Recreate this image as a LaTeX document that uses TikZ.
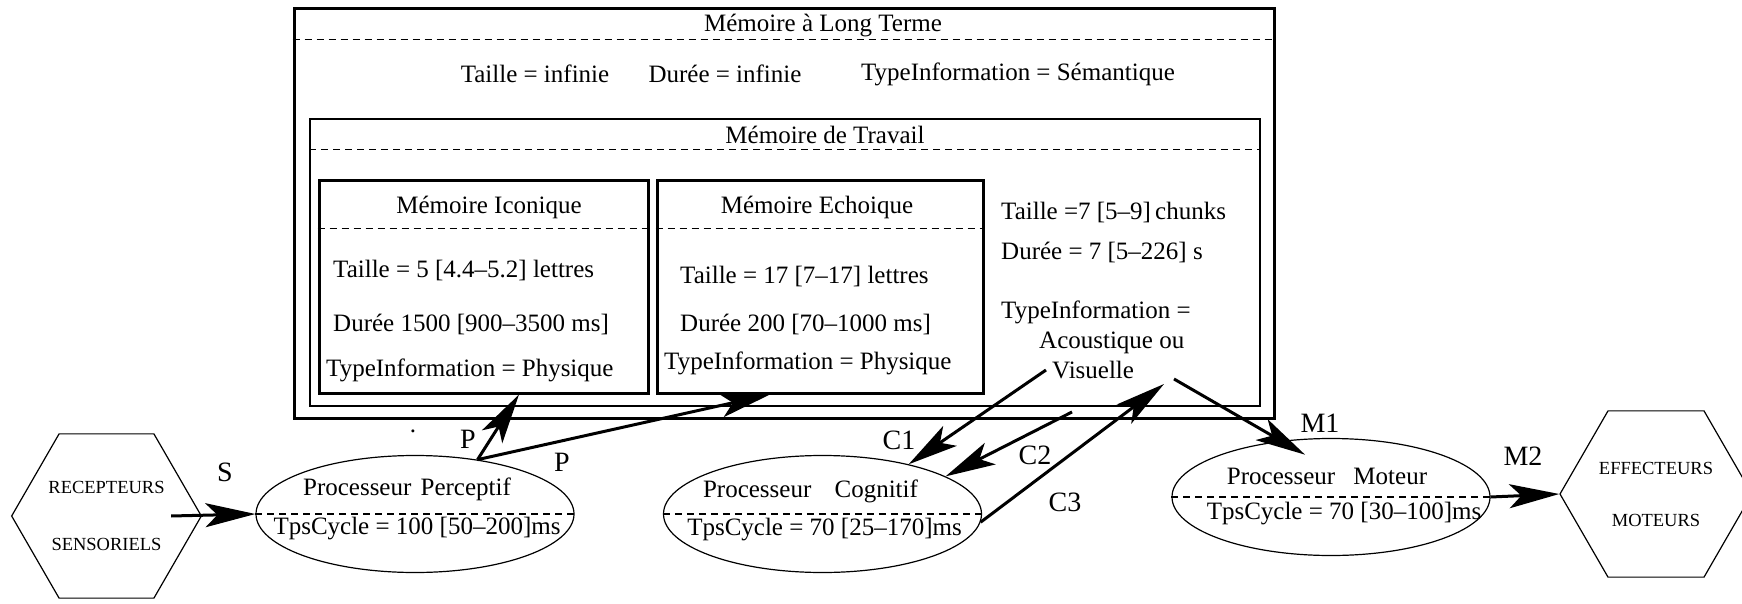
\documentclass[tikz,border=0pt]{standalone}
\usepackage{fontspec}
\setmainfont{Liberation Serif}
\usepackage{tikz}
\usetikzlibrary{arrows,arrows.meta,shapes}
\usetikzlibrary{positioning,fit}
\tikzstyle{membox} = [draw, line width=3pt, inner sep=0pt]
\tikzstyle{wmbox} = [draw, line width=1.2pt, inner sep=0pt]
\tikzstyle{proc} = [draw, ellipse, line width=1.2pt, inner sep=0pt,
    minimum width=318pt, minimum height=117pt]
\tikzstyle{organ} = [draw, regular polygon, regular polygon sides=6,
    line width=1.2pt, inner sep=0pt, align=center,
    font=\fontsize{18.5}{22}\selectfont]
\tikzstyle{sep} = [line width=1.2pt, dash pattern=on 7pt off 5pt]
\tikzstyle{flow} = [line width=3pt, -{Stealth[length=50pt,width=24pt,inset=12pt]}]
\tikzstyle{lbl} = [font=\fontsize{28}{32}\selectfont]
\tikzstyle{attr} = [anchor=west, inner sep=0pt]

\begin{document}
\begin{tikzpicture}[x=1pt, y=-1pt, font=\fontsize{25}{30}\selectfont]
  \useasboundingbox (0,0) rectangle (1742,604);
  % Place nodes
  \node [membox, minimum width=980pt, minimum height=409pt] (ltm) at (784,213.5) {};
  \node (ltmtitle) at (823,26) {Mémoire à Long Terme};
  \draw [sep] ([yshift=-32pt]ltm.north west) -- ([yshift=-32pt]ltm.north east);
  \node (ltmsize) at (535,74) {Taille = infinie};
  \node (ltmdur) at (725,74) {Durée = infinie};
  \node (ltmtype) at (1018,74) {TypeInformation = Sémantique};

  \node [wmbox, minimum width=950pt, minimum height=287pt] (wm) at (785,262.5) {};
  \node (wmtitle) at (825,135) {Mémoire de Travail};
  \draw [sep] ([yshift=-31pt]wm.north west) -- ([yshift=-31pt]wm.north east);

  \node [membox, minimum width=329pt, minimum height=212pt] (ico) at (483.5,287) {};
  \node (icotitle) at (489,207) {Mémoire Iconique};
  \draw [sep] ([yshift=-49pt]ico.north west) -- ([yshift=-49pt]ico.north east);
  \node [attr] (icosize) at (333,270) {Taille = 5 [4.4--5.2] lettres};
  \node [attr] (icodur) at (333,324) {Durée 1500 [900--3500 ms]};
  \node [attr] (icotype) at (326,370) {TypeInformation = Physique};

  \node [membox, minimum width=326pt, minimum height=212pt] (ech) at (820,287) {};
  \node (echtitle) at (817,207) {Mémoire Echoique};
  \draw [sep] ([yshift=-49pt]ech.north west) -- ([yshift=-49pt]ech.north east);
  \node [attr] (echsize) at (680,276) {Taille = 17 [7--17] lettres};
  \node [attr] (echdur) at (680,324) {Durée 200 [70--1000 ms]};
  \node [attr] (echtype) at (664,363) {TypeInformation = Physique};

  \node [attr] (wmsize) at (1001,212) {Taille =7 [5--9]\,chunks};
  \node [attr] (wmdur) at (1001,252) {Durée = 7 [5--226] s};
  \node [attr] (wmtype) at (1001,312) {TypeInformation =};
  \node [attr] (wmac) at (1039,343) {Acoustique ou};
  \node [attr] (wmvis) at (1052,370) {Visuelle};

  % processors
  \node [proc] (perc) at (415,514) {};
  \draw [sep] (perc.west) -- (perc.east);
  \node [above=10pt of perc.center, xshift=-8pt] (perctitle) {Processeur\hspace{3pt} Perceptif};
  \node [below=0pt of perc.center, xshift=2pt] (perccycle) {TpsCycle = 100 [50--200]ms};

  \node [proc] (cog) at (822.5,514) {};
  \draw [sep] (cog.west) -- (cog.east);
  \node [above=8pt of cog.center, xshift=-12pt] (cogtitle) {Processeur\hspace{17pt} Cognitif};
  \node [below=1pt of cog.center, xshift=2pt] (cogcycle) {TpsCycle = 70 [25--170]ms};

  \node [proc] (mot) at (1331,497) {};
  \draw [sep] (mot.west) -- (mot.east);
  \node [above=9pt of mot.center, xshift=-4pt] (mottitle) {Processeur\hspace{12pt} Moteur};
  \node [below=2pt of mot.center, xshift=13pt] (motcycle) {TpsCycle = 70 [30--100]ms};

  \node [organ, minimum size=187pt] (recept) at (106.5,516) {RECEPTEURS\\[35pt]SENSORIELS};
  \node [organ, minimum size=192pt] (effect) at (1656,494) {EFFECTEURS\\[30pt]MOTEURS};

  % Draw edges
  \coordinate (c2from) at (1072,412);
  \coordinate (c3to) at (1164,384);
  \coordinate (m1from) at (1174,379);
  \draw [flow] ([xshift=-31pt]recept.east) -- (perc.west);
  \draw [flow] (perc.41) -- ([xshift=35.5pt]ico.south);
  \draw [flow] (perc.41) -- ([xshift=-50pt]ech.south);
  \draw [flow] ([xshift=-6pt]wmvis.west) -- (cog.30);
  \draw [flow] (c2from) -- (cog.17);
  \draw [flow] (cog.-3) -- (c3to);
  \draw [flow] (m1from) -- ([yshift=-16pt]mot.114);
  \draw [flow] (mot.east) -- (effect.west);

  % labels
  \node [lbl] (slbl) at (225,472) {S};
  \node (dot) at (413,431) {.};
  \node [lbl] (p1lbl) at (468,439) {P};
  \node [lbl] (p2lbl) at (562,462) {P};
  \node [lbl] (c1lbl) at (899,440) {C1};
  \node [lbl] (c2lbl) at (1035,455) {C2};
  \node [lbl] (c3lbl) at (1065,502) {C3};
  \node [lbl] (m1lbl) at (1320,423) {M1};
  \node [lbl] (m2lbl) at (1523,456) {M2};
\end{tikzpicture}
\end{document}
